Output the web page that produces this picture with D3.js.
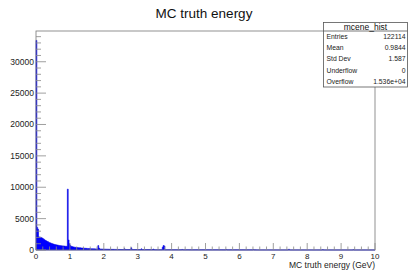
<!DOCTYPE html>
<html>
<head>
<meta charset="utf-8">
<script src="https://cdn.jsdelivr.net/npm/d3@7"></script>
<style>
  body { margin: 0; background: #fff; }
  svg { display: block; font-family: "Liberation Sans", Arial, sans-serif; }
</style>
</head>
<body>
<svg id="chart" width="408" height="270"></svg>
<script>
// histogram of MC truth energy, 0.025 GeV bins
const binWidth = 0.025;
// counts for bins from 0 to 2.5 GeV
const lowCounts = [
  33400, 3600, 3300, 2100, 2000, 2050, 1950, 1900, 1800, 1700,
  1600, 1500, 1450, 1350, 1300, 1200, 1150, 1100, 1050, 1000,
  950, 900, 870, 850, 800, 780, 750, 720, 700, 680,
  660, 650, 640, 620, 600, 590, 580, 9700, 1600, 1000,
  700, 600, 550, 500, 480, 450, 430, 410, 400, 380,
  360, 350, 340, 320, 310, 300, 290, 280, 270, 260,
  250, 240, 230, 220, 210, 200, 200, 190, 180, 180,
  170, 170, 160, 700, 300, 160, 150, 150, 140, 140,
  130, 130, 125, 120, 120, 115, 110, 110, 105, 100,
  100, 100, 95, 95, 90, 90, 90, 85, 85, 80
];
// flat level of the tail, one value per 0.5 GeV from 2.5 GeV
const tailLevels = [75, 60, 50, 40, 35, 30, 25, 20, 18, 15, 12, 10, 10, 8, 8];
// narrow peaks in the tail: [energy GeV, count]
const tailPeaks = [
  [2.6, 200], [2.8, 350], [3.1, 180], [3.45, 150],
  [3.725, 450], [3.75, 700], [3.775, 650],
  [4.3, 90], [5.6, 80], [6.4, 70], [7.45, 120], [8.45, 60], [9.35, 50]
];
const xTicks = [0, 1, 2, 3, 4, 5, 6, 7, 8, 9, 10];
const yTicks = [0, 5000, 10000, 15000, 20000, 25000, 30000];
const statNames = ["Entries", "Mean", "Std Dev", "Underflow", "Overflow"];
const statValues = ["122114", "0.9844", "1.587", "0", "1.536e+04"];

// assemble bins
const bins = [];
lowCounts.forEach((c, i) => bins.push({x0: i * binWidth, x1: (i + 1) * binWidth, n: c}));
const nLow = lowCounts.length;
const nTotal = Math.round(10 / binWidth);
for (let i = nLow; i < nTotal; i++) {
  const e = i * binWidth;
  const lvl = tailLevels[Math.floor((e - 2.5) / 0.5)] || 0;
  bins.push({x0: e, x1: e + binWidth, n: lvl});
}
tailPeaks.forEach(([e, c]) => {
  const b = bins[Math.round(e / binWidth)];
  if (b) b.n = c;
});

const svg = d3.select("#chart");
const margin = {left: 36, right: 33, top: 31, bottom: 20};
const W = 408, H = 270;

const x = d3.scaleLinear().domain([0, 10]).range([margin.left, W - margin.right]);
const y = d3.scaleLinear().domain([0, 34900]).range([H - margin.bottom, margin.top]);

// filled histogram
const pts = [[x(0), y(0)]];
bins.forEach(b => { pts.push([x(b.x0), y(b.n)]); pts.push([x(b.x1), y(b.n)]); });
pts.push([x(10), y(0)]);
svg.append("path")
  .attr("d", d3.line()(pts) + "Z")
  .attr("fill", "#0000ff")
  .attr("stroke", "#0000e0")
  .attr("stroke-width", 0.6);

// frame
svg.append("rect")
  .attr("x", x(0)).attr("y", y.range()[1])
  .attr("width", x(10) - x(0)).attr("height", y(0) - y.range()[1])
  .attr("fill", "none").attr("stroke", "#777").attr("stroke-width", 0.8);

// x axis ticks
const xMinor = d3.range(0, 10.001, 0.2);
svg.append("g").selectAll("line").data(xMinor).join("line")
  .attr("x1", d => x(d)).attr("x2", d => x(d))
  .attr("y1", y(0))
  .attr("y2", d => y(0) - (Math.abs(d - Math.round(d)) < 1e-6 ? 7 : 3.5))
  .attr("stroke", "#888").attr("stroke-width", 0.8);
svg.append("g").selectAll("text").data(xTicks).join("text")
  .attr("x", d => x(d)).attr("y", y(0) + 8.5)
  .attr("text-anchor", "middle")
  .attr("font-size", 8).attr("fill", "#222")
  .text(d => d);

// y axis ticks
const yMinor = d3.range(0, 34001, 1000);
svg.append("g").selectAll("line").data(yMinor).join("line")
  .attr("x1", x(0))
  .attr("x2", d => x(0) + (d % 5000 === 0 ? 10 : 5))
  .attr("y1", d => y(d)).attr("y2", d => y(d))
  .attr("stroke", "#888").attr("stroke-width", 0.8);
svg.append("g").selectAll("text").data(yTicks).join("text")
  .attr("x", x(0) - 2).attr("y", d => y(d) + 3)
  .attr("text-anchor", "end")
  .attr("font-size", 8.5).attr("fill", "#222")
  .text(d => d);

// axis title
svg.append("text")
  .attr("x", x(10)).attr("y", 268)
  .attr("text-anchor", "end")
  .attr("font-size", 8.5).attr("fill", "#222")
  .text("MC truth energy (GeV)");

// title
svg.append("text")
  .attr("x", 204).attr("y", 18)
  .attr("text-anchor", "middle")
  .attr("font-size", 13.5).attr("fill", "#111")
  .text("MC truth energy");

// stats box
const bx = 323.5, bw = 84, by = 22.5, rowH = 11.2, headH = 8.5;
const box = svg.append("g");
box.append("rect")
  .attr("x", bx).attr("y", by)
  .attr("width", bw).attr("height", headH + rowH * statNames.length)
  .attr("fill", "#fff").attr("stroke", "#555").attr("stroke-width", 0.8);
box.append("line")
  .attr("x1", bx).attr("x2", bx + bw)
  .attr("y1", by + headH).attr("y2", by + headH)
  .attr("stroke", "#555").attr("stroke-width", 0.8);
box.append("text")
  .attr("x", bx + bw / 2).attr("y", by + 7.3)
  .attr("text-anchor", "middle")
  .attr("font-size", 8.5).attr("fill", "#111")
  .text("mcene_hist");
statNames.forEach((nm, i) => {
  const yy = by + headH + rowH * i + 8;
  box.append("text").attr("x", bx + 3).attr("y", yy)
    .attr("font-size", 6.8).attr("fill", "#222").text(nm);
  box.append("text").attr("x", bx + bw - 2).attr("y", yy)
    .attr("text-anchor", "end")
    .attr("font-size", 6.8).attr("fill", "#222").text(statValues[i]);
});
</script>
</body>
</html>
